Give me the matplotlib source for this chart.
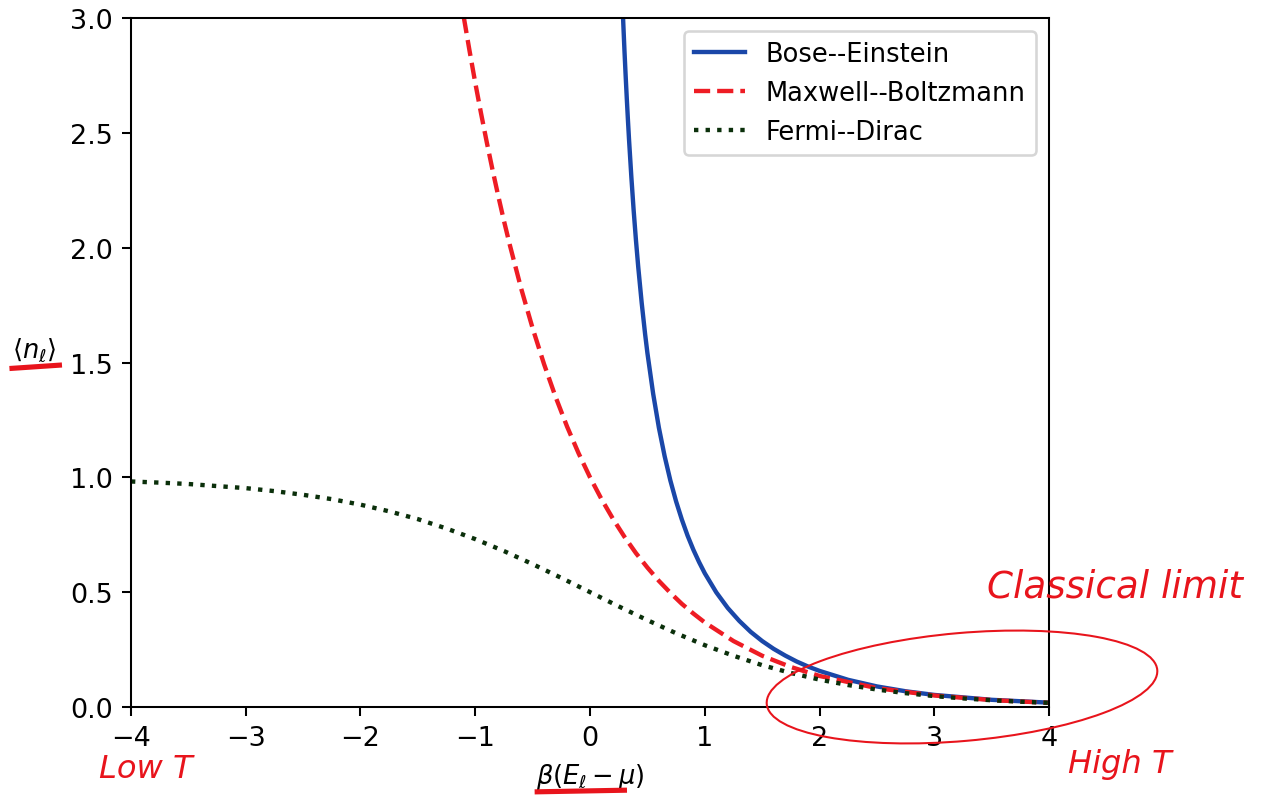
import matplotlib
matplotlib.use("Agg")
import matplotlib.pyplot as plt
from matplotlib.patches import Ellipse
import numpy as np

# Values
be_x = [0.28, 0.29, 0.30, 0.31, 0.32, 0.33, 0.34, 0.36, 0.38, 0.40, 0.42, 0.45, 0.48, 0.50,
        0.55, 0.60, 0.65, 0.70, 0.75, 0.80, 0.85, 0.90, 0.95, 1.00, 1.10, 1.20, 1.30, 1.40,
        1.50, 1.60, 1.70, 1.80, 1.90, 2.00, 2.25, 2.50, 2.75, 3.00, 3.50, 4.00]
be_y = [3.095, 2.974, 2.858, 2.752, 2.652, 2.558, 2.469, 2.308, 2.163, 2.033, 1.916, 1.760,
        1.623, 1.541, 1.364, 1.216, 1.092, 0.986, 0.895, 0.816, 0.746, 0.685, 0.631, 0.582,
        0.499, 0.431, 0.375, 0.327, 0.287, 0.253, 0.224, 0.198, 0.176, 0.157, 0.118, 0.0894,
        0.0683, 0.0524, 0.0311, 0.0187]

mb_x = [-1.10, -1.05, -1.00, -0.95, -0.90, -0.85, -0.80, -0.75, -0.70, -0.60, -0.50, -0.40,
        -0.30, -0.20, -0.10, 0.00, 0.10, 0.20, 0.30, 0.40, 0.50, 0.60, 0.70, 0.80, 0.90,
        1.00, 1.25, 1.50, 1.75, 2.00, 2.50, 3.00, 3.50, 4.00]
mb_y = [3.004, 2.858, 2.718, 2.586, 2.460, 2.340, 2.226, 2.117, 2.014, 1.822, 1.649, 1.492,
        1.350, 1.221, 1.105, 1.000, 0.905, 0.819, 0.741, 0.670, 0.607, 0.549, 0.497, 0.449,
        0.407, 0.368, 0.287, 0.223, 0.174, 0.135, 0.082, 0.050, 0.030, 0.018]

fd_x = [-4.00, -3.75, -3.50, -3.25, -3.00, -2.75, -2.50, -2.25, -2.00, -1.75, -1.50, -1.25,
        -1.00, -0.75, -0.50, -0.25, 0.00, 0.25, 0.50, 0.75, 1.00, 1.25, 1.50, 1.75,
        2.00, 2.25, 2.50, 2.75, 3.00, 3.25, 3.50, 3.75, 4.00]
fd_y = [0.982, 0.977, 0.971, 0.962, 0.953, 0.940, 0.924, 0.905, 0.881, 0.852, 0.818, 0.777,
        0.731, 0.679, 0.622, 0.562, 0.500, 0.438, 0.378, 0.321, 0.269, 0.223, 0.182, 0.148,
        0.119, 0.0953, 0.0759, 0.0601, 0.0474, 0.0373, 0.0293, 0.0230, 0.0180]

labels = ["Bose--Einstein", "Maxwell--Boltzmann", "Fermi--Dirac"]
ink = "#e8141c"

fig, ax = plt.subplots(figsize=(1264 / 185, 796 / 185), dpi=185)
fig.subplots_adjust(left=0.1036, right=0.830, top=0.976, bottom=0.1106)

ax.plot(be_x, be_y, color="#1a47a8", lw=1.7, label=labels[0])
ax.plot(mb_x, mb_y, color="#ee1c24", lw=1.7, ls="--", label=labels[1])
ax.plot(fd_x, fd_y, color="#0b300b", lw=1.7, ls=":", label=labels[2])

ax.set_xlim(-4, 4)
ax.set_ylim(0, 3)
ax.set_xticks(np.arange(-4, 5, 1))
ax.set_yticks(np.arange(0, 3.01, 0.5))
ax.tick_params(labelsize=10.5)
ax.set_xlabel(r"$\beta(E_\ell - \mu)$")
ax.set_ylabel(r"$\langle n_\ell \rangle$", rotation=0, ha="center", va="center")
ax.yaxis.set_label_coords(-0.105, 0.52)
ax.legend(loc="upper right")

# handwritten notes
fig.text(0.882, 0.263, "Classical limit", color=ink, fontsize=14.5, style="italic",
         ha="center", va="center")
fig.text(0.886, 0.039, "High T", color=ink, fontsize=12.5, style="italic",
         ha="center", va="center")
fig.text(0.115, 0.033, "Low T", color=ink, fontsize=12.5, style="italic",
         ha="center", va="center")
fig.add_artist(Ellipse((962 / 185, (796 - 688) / 185), 392 / 185, 108 / 185, angle=5,
                       transform=fig.dpi_scale_trans, fill=False, edgecolor=ink, lw=0.8,
                       clip_on=False))
fig.add_artist(plt.Line2D([0.0095, 0.047], [0.536, 0.540], color=ink, lw=2.0))
fig.add_artist(plt.Line2D([0.425, 0.494], [0.004, 0.006], color=ink, lw=2.0))

fig.savefig("out.png", dpi=185)
